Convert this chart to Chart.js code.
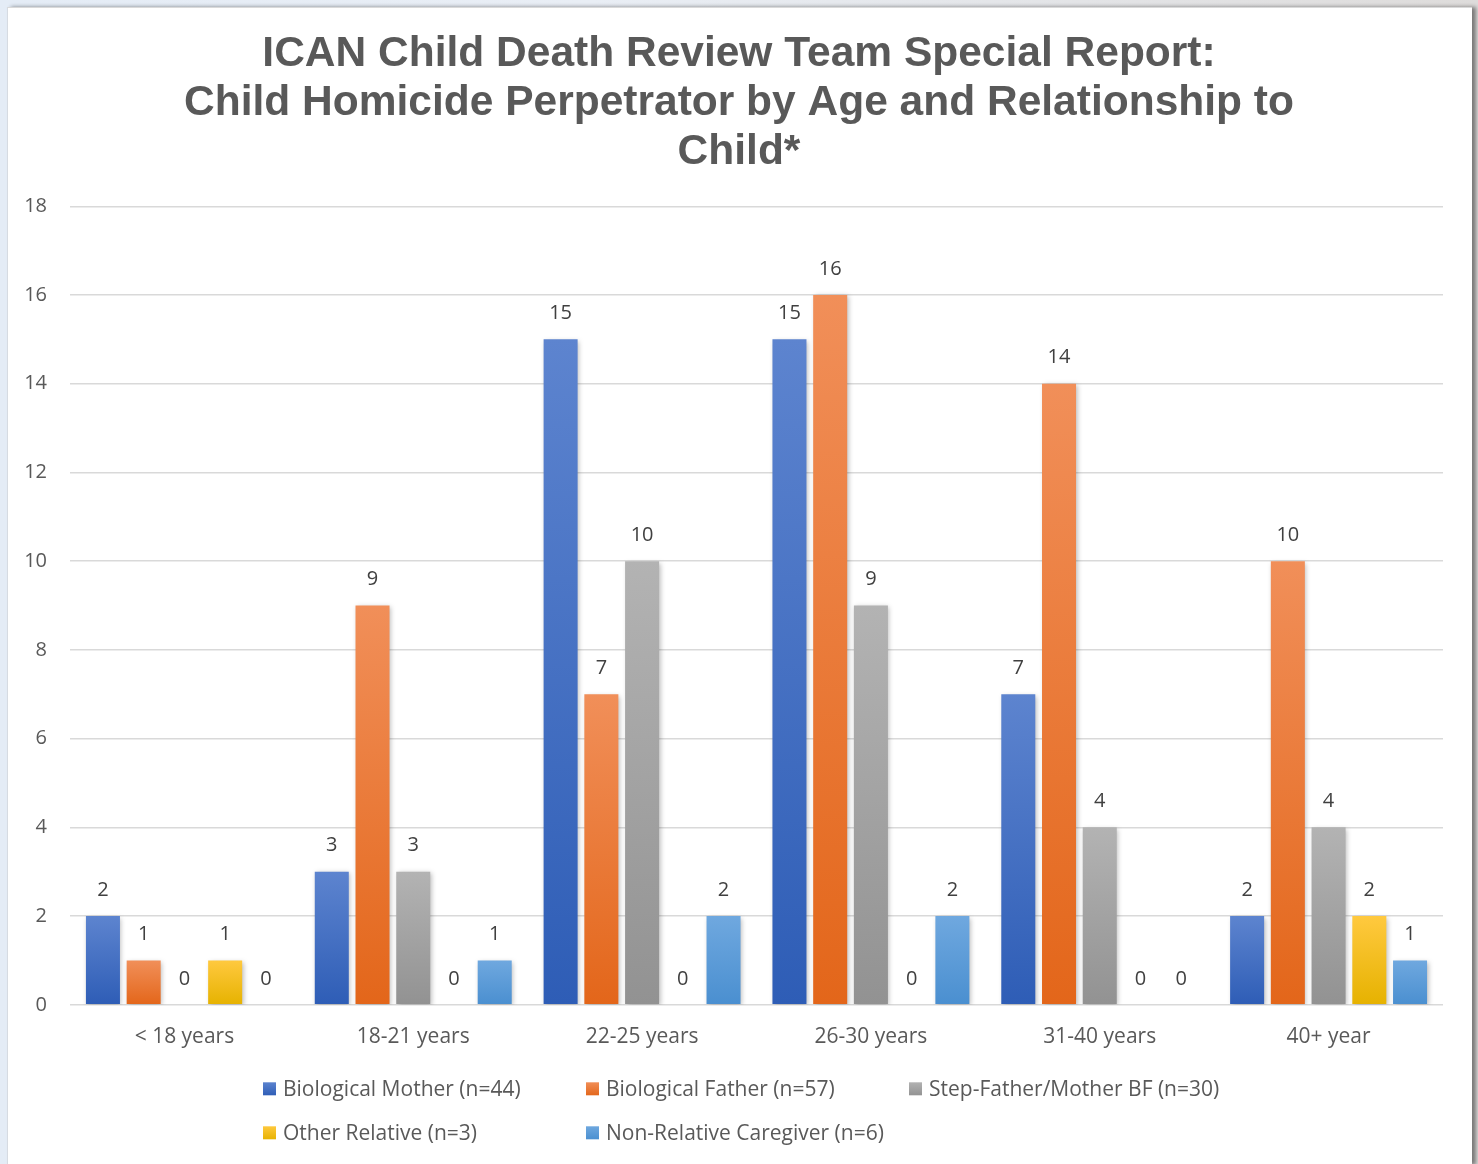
<!DOCTYPE html>
<html>
<head>
<meta charset="utf-8">
<title>Child Homicide Perpetrator by Age and Relationship</title>
<script src="https://cdn.jsdelivr.net/npm/chart.js@4.4.1/dist/chart.umd.min.js"></script>
<style>
  html, body { margin: 0; padding: 0; }
  body {
    width: 1478px; height: 1164px; overflow: hidden; position: relative;
    background: linear-gradient(90deg, #e4ecf6 0%, #e9eef5 40%, #dedcdb 100%);
  }
  .card {
    position: absolute; left: 7px; top: 7px; width: 1464px; height: 1157px;
    background: #fff; border-left: 1px solid #d6dbe2; border-top: 1px solid #d9d9d9;
    box-shadow: 4px 0 4px rgba(0,0,0,.45);
  }
  #chart { position: absolute; left: 0; top: 0; }
</style>
</head>
<body>
<div class="card"></div>
<canvas id="chart" width="1478" height="1164"></canvas>
<script>
/* ── Data ── */
const ageGroups = ['< 18 years', '18-21 years', '22-25 years', '26-30 years', '31-40 years', '40+ year'];
const bioMother   = [2, 3, 15, 15, 7, 2];
const bioFather   = [1, 9, 7, 16, 14, 10];
const stepParent  = [0, 3, 10, 9, 4, 4];
const otherRel    = [1, 0, 0, 0, 0, 2];
const nonRelative = [0, 1, 2, 2, 0, 1];
const yTicks = [0, 2, 4, 6, 8, 10, 12, 14, 16, 18];

const TEXT = '#595959';
const FONT = "'Open Sans', 'Noto Sans', sans-serif";

/* ── Per-bar vertical gradient (light top, dark bottom) ── */
function barFill(top, bottom) {
  return ctx => {
    const c = ctx.chart;
    if (ctx.type !== 'data' || !c.chartArea) return bottom;
    const y = c.scales.y;
    const y0 = y.getPixelForValue(0);
    const y1 = y.getPixelForValue(ctx.raw);
    if (Math.abs(y0 - y1) < 1) return bottom;
    const g = c.ctx.createLinearGradient(0, y1, 0, y0);
    g.addColorStop(0, top);
    g.addColorStop(1, bottom);
    return g;
  };
}

const series = [
  { label: 'Biological Mother (n=44)',     data: bioMother,   top: '#5d84cf', bottom: '#2e5db6' },
  { label: 'Biological Father (n=57)',     data: bioFather,   top: '#f18f59', bottom: '#e3661a' },
  { label: 'Step-Father/Mother BF (n=30)', data: stepParent,  top: '#b3b3b3', bottom: '#929292' },
  { label: 'Other Relative (n=3)',         data: otherRel,    top: '#ffc93f', bottom: '#e6b200' },
  { label: 'Non-Relative Caregiver (n=6)', data: nonRelative, top: '#6fa8df', bottom: '#4a8fd0' },
];

/* ── Bar shadow + value labels ── */
const barDecor = {
  id: 'barDecor',
  beforeDatasetsDraw(chart) {
    const ctx = chart.ctx;
    ctx.save();
    ctx.shadowColor = 'rgba(0,0,0,0.28)';
    ctx.shadowBlur = 5;
    ctx.shadowOffsetX = 1.5;
    ctx.shadowOffsetY = 1.5;
  },
  afterDatasetsDraw(chart) {
    const ctx = chart.ctx;
    ctx.restore();
    ctx.save();
    ctx.font = `20px ${FONT}`;
    ctx.fillStyle = '#404040';
    ctx.textAlign = 'center';
    ctx.textBaseline = 'middle';
    chart.data.datasets.forEach((ds, i) => {
      chart.getDatasetMeta(i).data.forEach((bar, j) => {
        ctx.fillText(String(ds.data[j]), bar.x, bar.y - 26);
      });
    });
    ctx.restore();
  }
};

/* ── Legend in fixed columns, two rows ── */
const gridLegend = {
  id: 'gridLegend',
  afterDraw(chart) {
    const ctx = chart.ctx;
    const startX = 263, colW = 323, perRow = 3;
    const rowY = [chart.chartArea.bottom + 84, chart.chartArea.bottom + 128];
    ctx.save();
    ctx.font = `21px ${FONT}`;
    ctx.textBaseline = 'middle';
    ctx.textAlign = 'left';
    series.forEach((s, i) => {
      const x = startX + (i % perRow) * colW;
      const y = rowY[Math.floor(i / perRow)];
      const g = ctx.createLinearGradient(0, y - 7, 0, y + 7);
      g.addColorStop(0, s.top);
      g.addColorStop(1, s.bottom);
      ctx.fillStyle = g;
      ctx.fillRect(x, y - 6.5, 13, 13);
      ctx.fillStyle = TEXT;
      ctx.fillText(s.label, x + 20, y + 1);
    });
    ctx.restore();
  }
};

new Chart(document.getElementById('chart'), {
  type: 'bar',
  data: {
    labels: ageGroups,
    datasets: series.map(s => ({
      label: s.label,
      data: s.data,
      backgroundColor: barFill(s.top, s.bottom),
      borderWidth: 0,
      barPercentage: 0.835,
      categoryPercentage: 0.89,
    }))
  },
  options: {
    responsive: false,
    animation: false,
    devicePixelRatio: 1,
    layout: { padding: { top: 30, right: 0, bottom: 102, left: 0 } },
    plugins: {
      legend: { display: false },
      tooltip: { enabled: false },
      title: {
        display: true,
        text: ['ICAN Child Death Review Team Special Report:',
               'Child Homicide Perpetrator by Age and Relationship to',
               'Child*'],
        color: TEXT,
        font: { family: "'Liberation Sans', Arial, sans-serif", size: 42.5, weight: 'bold', lineHeight: 1.155 },
        padding: { top: 0, bottom: 29 }
      }
    },
    scales: {
      x: {
        grid: { display: false },
        border: { display: false },
        ticks: { color: TEXT, font: { family: FONT, size: 21 }, padding: 12 }
      },
      y: {
        min: 0,
        max: 18,
        afterFit: scale => { scale.width = 70; },
        afterBuildTicks: scale => { scale.ticks = yTicks.map(v => ({ value: v })); },
        grid: { color: '#d9d9d9', lineWidth: 1.5, drawTicks: false },
        border: { display: false },
        ticks: { color: TEXT, font: { family: FONT, size: 20 }, padding: 23 }
      },
      // empty right margin so the title centres on the full card
      yRight: {
        position: 'right',
        min: 0,
        max: 18,
        afterFit: scale => { scale.width = 35; },
        grid: { display: false },
        border: { display: false },
        ticks: { display: false }
      }
    }
  },
  plugins: [barDecor, gridLegend]
});
</script>
</body>
</html>
